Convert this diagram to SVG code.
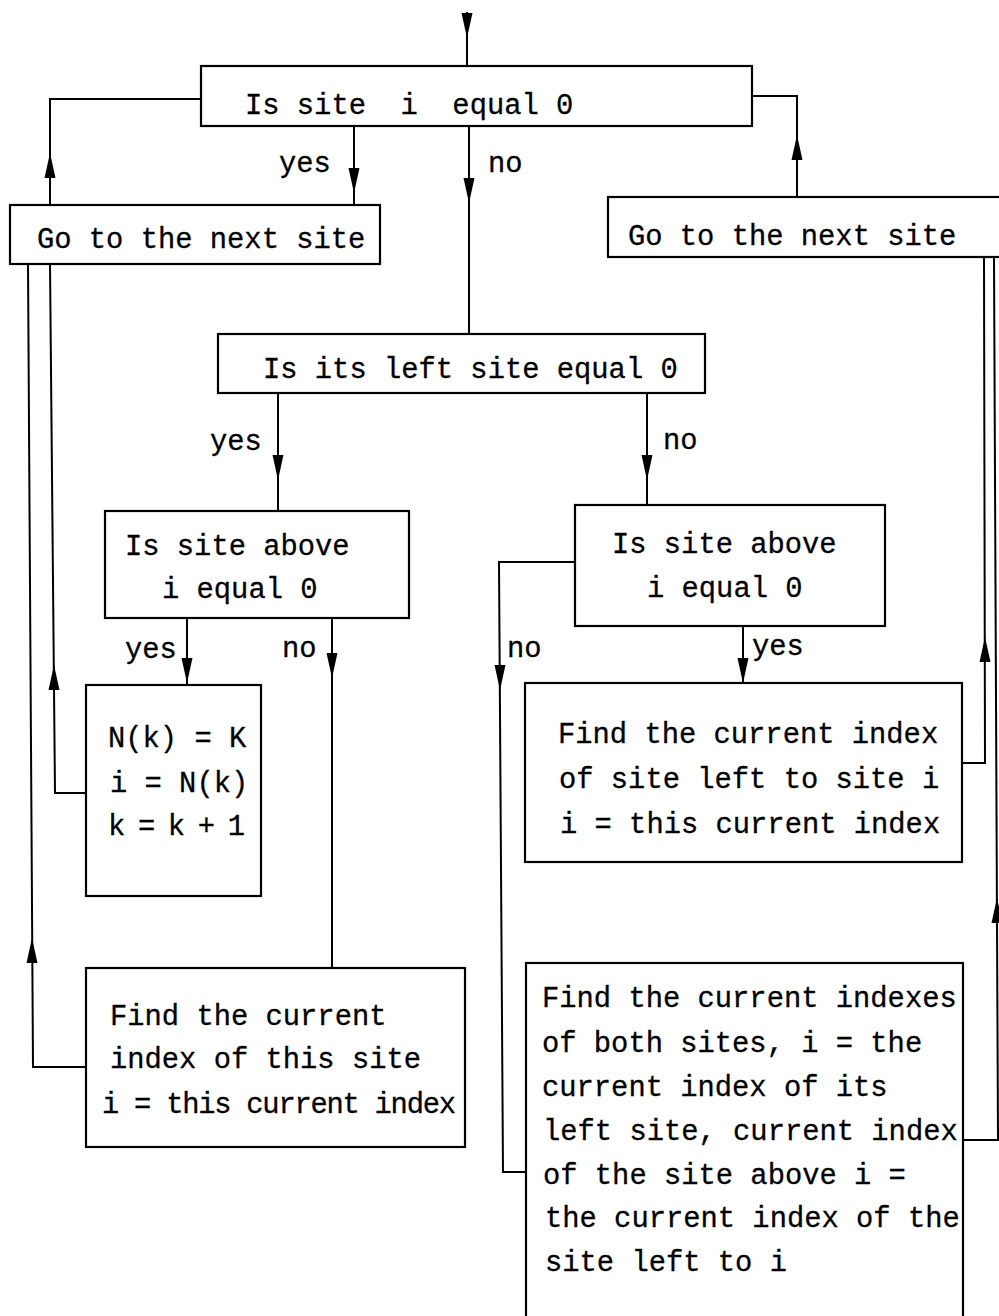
<svg xmlns="http://www.w3.org/2000/svg" width="999" height="1316" viewBox="0 0 999 1316">
<style>
  .box { fill: none; stroke: #000; stroke-width: 2.2; }
  .ln { fill: none; stroke: #000; stroke-width: 2; }
  .ah { fill: #000; stroke: none; }
  text { font-family: "Liberation Mono", "DejaVu Sans Mono", monospace; font-size: 28.8px; fill: #000; stroke: #000; stroke-width: 0.3; }
</style>
<defs>
  <path id="ad" d="M-5.5,-25 L5.5,-25 L0,0 Z"/>
  <path id="au" d="M-5.5,25 L5.5,25 L0,0 Z"/>
</defs>
<rect x="0" y="0" width="999" height="1316" fill="#fff"/>

<g id="connectors">
  <path class="ln" d="M467,12 V65"/>
  <path class="ln" d="M354,126 V205"/>
  <path class="ln" d="M469,126 V334"/>
  <path class="ln" d="M50,205 V99 H201"/>
  <path class="ln" d="M797,197 V96 H752"/>
  <path class="ln" d="M278,393 V511"/>
  <path class="ln" d="M647,393 V505"/>
  <path class="ln" d="M187,618 V685"/>
  <path class="ln" d="M332,618 V968"/>
  <path class="ln" d="M86,793 H55 L50,264"/>
  <path class="ln" d="M86,1067 H33 L28,264"/>
  <path class="ln" d="M575,562 H499 L503,1172 H526"/>
  <path class="ln" d="M743,626 V683"/>
  <path class="ln" d="M962,763 H985 L984,257"/>
  <path class="ln" d="M963,1140 H998 L994,257"/>
  <g class="ah">
    <use href="#ad" x="467" y="38"/>
    <use href="#ad" x="354" y="193"/>
    <use href="#ad" x="469" y="203"/>
    <use href="#au" x="50" y="153"/>
    <use href="#au" x="797" y="135"/>
    <use href="#ad" x="278" y="480"/>
    <use href="#ad" x="647" y="480"/>
    <use href="#ad" x="187" y="683"/>
    <use href="#ad" x="332" y="678"/>
    <use href="#au" x="54" y="665"/>
    <use href="#au" x="32" y="938"/>
    <use href="#ad" x="500" y="690"/>
    <use href="#ad" x="743" y="683"/>
    <use href="#au" x="985" y="637"/>
    <use href="#au" x="997" y="898"/>
  </g>
  <g id="labels">
    <text x="279" y="172">yes</text>
    <text x="488" y="172">no</text>
    <text x="210" y="450">yes</text>
    <text x="663" y="449">no</text>
    <text x="125" y="658">yes</text>
    <text x="282" y="657">no</text>
    <text x="507" y="657">no</text>
    <text x="752" y="655">yes</text>
  </g>
</g>

<g id="n1">
  <rect class="box" x="201" y="66" width="551" height="60"/>
  <text x="245" y="114" xml:space="preserve">Is site  i  equal 0</text>
</g>
<g id="n2">
  <rect class="box" x="10" y="205" width="370" height="59"/>
  <text x="37" y="248">Go to the next site</text>
</g>
<g id="n3">
  <rect class="box" x="608" y="197" width="400" height="60"/>
  <text x="628" y="245">Go to the next site</text>
</g>
<g id="n4">
  <rect class="box" x="218" y="334" width="487" height="59"/>
  <text x="263" y="378">Is its left site equal 0</text>
</g>
<g id="n5">
  <rect class="box" x="105" y="511" width="304" height="107"/>
  <text x="125" y="555">Is site above</text>
  <text x="162" y="598">i equal 0</text>
</g>
<g id="n6">
  <rect class="box" x="575" y="505" width="310" height="121"/>
  <text x="612" y="553">Is site above</text>
  <text x="647" y="597">i equal 0</text>
</g>
<g id="n7">
  <rect class="box" x="86" y="685" width="175" height="211"/>
  <text x="108" y="747">N(k) = K</text>
  <text x="110" y="792">i = N(k)</text>
  <text x="108" y="835" textLength="137" lengthAdjust="spacing">k = k + 1</text>
</g>
<g id="n8">
  <rect class="box" x="86" y="968" width="379" height="179"/>
  <text x="110" y="1025">Find the current</text>
  <text x="110" y="1068">index of this site</text>
  <text x="102" y="1113" textLength="354" lengthAdjust="spacing">i = this current index</text>
</g>
<g id="n9">
  <rect class="box" x="525" y="683" width="437" height="179"/>
  <text x="558" y="743">Find the current index</text>
  <text x="559" y="788">of site left to site i</text>
  <text x="560" y="833">i = this current index</text>
</g>
<g id="n10">
  <rect class="box" x="526" y="963" width="437" height="380"/>
  <text x="542" y="1007">Find the current indexes</text>
  <text x="542" y="1052">of both sites, i = the</text>
  <text x="542" y="1096">current index of its</text>
  <text x="543" y="1140">left site, current index</text>
  <text x="543" y="1184">of the site above i =</text>
  <text x="545" y="1227">the current index of the</text>
  <text x="545" y="1271">site left to i</text>
</g>
</svg>
